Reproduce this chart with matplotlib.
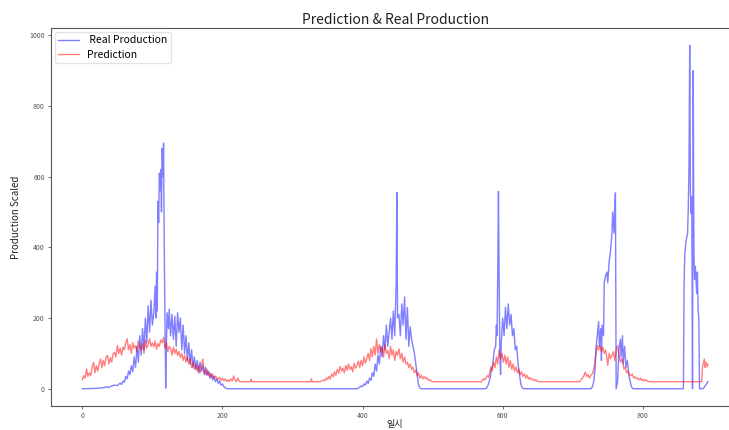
import matplotlib
matplotlib.use('Agg')
import matplotlib.pyplot as plt

plt.rcParams['font.family'] = ['Noto Sans CJK KR', 'DejaVu Sans']

# 실제 생산량 (x, y)
real_x = [0, 20, 30, 34, 38, 42, 46, 50, 54, 56, 58, 60, 62, 64, 66, 68, 70, 72, 74, 76,
          78, 80, 82, 84, 86, 88, 90, 92, 94, 96, 98, 100, 102, 104, 105, 106, 107, 108, 109, 110,
          111, 112, 113, 114, 115, 116, 117, 118, 119, 120, 121, 123, 124, 126, 128, 130, 132, 134, 136, 138,
          140, 142, 144, 146, 148, 150, 152, 154, 156, 158, 160, 162, 164, 166, 168, 170, 172, 174, 176, 178,
          180, 182, 184, 186, 188, 190, 192, 194, 196, 198, 200, 202, 204, 206, 210,
          392, 396, 398, 400, 402, 404, 406, 408, 410, 412, 414, 416, 418, 420, 422, 424, 426, 428, 430, 432,
          434, 436, 438, 440, 442, 444, 446, 448, 449, 450, 452, 454, 456, 458, 460, 462, 464, 466, 468, 470,
          472, 474, 476, 478, 480, 482, 484,
          576, 578, 580, 582, 584, 586, 588, 590, 591, 592, 593, 594, 595, 596, 597, 598, 600, 602, 604, 606,
          608, 610, 612, 614, 616, 618, 620, 622, 624, 626, 628, 630,
          726, 728, 730, 732, 733, 735, 737, 738, 740, 741, 742, 744, 745, 747, 749, 750, 752, 754, 756, 757,
          759, 760, 761, 762, 764, 766, 768, 769, 771, 772, 774, 776, 778, 780, 782, 784, 786,
          858, 859, 860, 862, 864, 865, 866, 867, 868, 869, 870, 871, 872, 873, 874, 875, 877, 878, 879, 880,
          881, 886, 888, 891, 893]
real_y = [0, 1, 3, 5, 4, 8, 10, 9, 16, 12, 22, 18, 35, 28, 50, 40, 65, 48, 90, 60,
          120, 75, 150, 95, 170, 110, 200, 130, 235, 160, 250, 180, 215, 290, 200, 330, 220, 530, 470, 610,
          560, 620, 500, 680, 600, 695, 390, 200, 2, 120, 215, 170, 225, 150, 210, 140, 205, 120, 215, 160,
          200, 110, 180, 100, 150, 80, 130, 70, 110, 60, 90, 55, 80, 45, 75, 50, 65, 40, 60, 38,
          50, 30, 42, 25, 35, 20, 28, 15, 22, 10, 14, 6, 3, 1, 0,
          0, 4, 8, 6, 14, 10, 22, 15, 30, 24, 45, 35, 70, 50, 95, 70, 120, 90, 150, 110,
          180, 120, 160, 200, 140, 220, 150, 300, 555, 200, 210, 150, 240, 180, 260, 140, 230, 120, 175, 140,
          120, 100, 70, 40, 10, 2, 0,
          0, 5, 15, 30, 55, 70, 110, 120, 180, 150, 330, 558, 300, 100, 40, 130, 200, 150, 230, 170,
          240, 180, 210, 150, 170, 110, 120, 70, 40, 12, 3, 0,
          0, 5, 20, 60, 110, 150, 190, 120, 170, 80, 180, 150, 300, 320, 330, 300, 360, 390, 440, 500,
          440, 520, 554, 0, 20, 113, 140, 90, 150, 70, 120, 60, 80, 40, 20, 5, 0,
          0, 300, 385, 420, 440, 516, 630, 972, 560, 496, 543, 0, 900, 385, 310, 346, 270, 330, 220, 200,
          0, 0, 5, 14, 20]

# 예측값 (x, y)
pred_x = [0, 2, 4, 6, 8, 10, 12, 14, 16, 18, 20, 22, 24, 26, 28, 30, 32, 34, 36, 38,
          40, 42, 44, 46, 48, 50, 52, 54, 56, 58, 60, 62, 64, 66, 68, 70, 72, 74, 76, 78,
          80, 82, 84, 86, 88, 90, 92, 94, 96, 98, 100, 102, 104, 106, 108, 110, 112, 114, 116, 118,
          120, 122, 124, 126, 128, 130, 132, 134, 136, 138, 140, 142, 144, 146, 148, 150, 152, 154, 156, 158,
          160, 162, 164, 166, 168, 170, 172, 174, 176, 178, 180, 182, 184, 186, 188, 190, 192, 194, 196, 198,
          200, 202, 204, 206, 208, 210, 212, 214, 216, 218, 220, 222, 224, 226, 240, 241, 242, 326, 327, 328,
          340, 344, 346, 348, 350, 352, 354, 356, 358, 360, 362, 364, 366, 368, 370, 372, 374, 376, 378, 380,
          382, 384, 386, 388, 390, 392, 394, 396, 398, 400, 402, 404, 406, 408, 410, 412, 414, 416, 418, 420,
          422, 424, 426, 428, 430, 432, 434, 436, 438, 440, 442, 444, 446, 448, 450, 452, 454, 456, 458, 460,
          462, 464, 466, 468, 470, 472, 474, 476, 478, 480, 482, 484, 486, 488, 490, 492, 494, 496, 498, 500,
          570, 573, 575, 578, 580, 583, 585, 587, 589, 591, 593, 595, 597, 599, 601, 603, 605, 607, 609, 611,
          613, 615, 617, 619, 621, 623, 625, 627, 629, 631, 633, 635, 637, 639, 641, 643, 645, 647, 650,
          710, 713, 716, 718, 720, 722, 724, 726, 728, 730, 731, 733, 735, 737, 739, 741, 743, 745, 747, 749,
          750, 752, 754, 756, 758, 760, 762, 764, 766, 768, 770, 772, 773, 775, 777, 779, 781, 783, 785, 787,
          789, 791, 793, 795, 797, 799, 801, 803, 805, 807, 810,
          884, 885, 886, 888, 889, 890, 892, 893]
pred_y = [25, 37, 30, 56, 35, 45, 37, 60, 75, 45, 65, 50, 70, 84, 60, 80, 65, 90, 94, 70,
          88, 75, 100, 103, 90, 122, 100, 115, 95, 118, 110, 130, 141, 110, 125, 100, 130, 115, 122, 105,
          135, 118, 110, 128, 100, 138, 115, 125, 141, 120, 130, 118, 135, 112, 128, 120, 138, 130, 145, 115,
          130, 105, 120, 113, 95, 118, 100, 112, 94, 105, 88, 100, 80, 95, 75, 90, 70, 85, 60, 75,
          55, 70, 50, 65, 45, 60, 84, 50, 40, 55, 38, 45, 32, 42, 28, 36, 30, 26, 32, 24,
          30, 22, 28, 21, 25, 20, 28, 22, 36, 24, 20, 30, 21, 20, 20, 28, 20, 20, 28, 20,
          20, 25, 22, 30, 26, 35, 28, 42, 34, 48, 38, 55, 44, 63, 50, 58, 45, 66, 52, 70,
          55, 62, 48, 72, 58, 66, 78, 60, 80, 65, 90, 72, 85, 100, 80, 113, 90, 120, 95, 141,
          100, 125, 105, 118, 90, 125, 100, 108, 85, 120, 95, 110, 80, 105, 95, 113, 85, 100, 75, 90,
          70, 75, 60, 70, 55, 61, 45, 52, 37, 45, 30, 38, 28, 34, 28, 31, 24, 26, 21, 20,
          20, 28, 25, 37, 32, 61, 50, 75, 60, 90, 70, 110, 85, 100, 75, 95, 70, 90, 60, 80,
          55, 70, 50, 62, 45, 55, 40, 48, 35, 42, 30, 38, 27, 32, 25, 28, 22, 26, 20,
          20, 28, 37, 47, 35, 40, 30, 38, 42, 55, 66, 94, 122, 110, 122, 105, 118, 100, 110, 85,
          66, 100, 85, 95, 105, 80, 110, 122, 95, 75, 85, 70, 56, 60, 45, 50, 40, 37, 42, 30,
          34, 28, 31, 25, 30, 23, 27, 22, 25, 21, 20,
          20, 56, 70, 84, 60, 75, 62, 70]

fig = plt.figure(figsize=(7.29, 4.30), dpi=100)
ax = fig.add_axes([0.070, 0.056, 0.944, 0.879])

ax.plot(real_x, real_y, color='blue', alpha=0.5, lw=1, label=' Real Production')
ax.plot(pred_x, pred_y, color='red', alpha=0.5, lw=1, label='Prediction')

ax.set_title('Prediction & Real Production', fontsize=10, color='#222222', pad=3)
ax.set_ylabel('Production Scaled', fontsize=7, color='#222222', labelpad=6)
ax.set_xlabel('일시', fontsize=6.5, color='#222222', labelpad=0)
ax.set_xticks([0, 200, 400, 600, 800])
ax.set_yticks([0, 200, 400, 600, 800, 1000])
ax.tick_params(labelsize=5, colors='#555555', length=2.5, width=0.6, pad=2)
for s in ax.spines.values():
    s.set_color('#555555')
    s.set_linewidth(0.8)

leg = ax.legend(loc='upper left', fontsize=7.5, handlelength=2, frameon=True,
                borderpad=0.3, labelspacing=0.45, borderaxespad=0.4)
leg.get_frame().set_edgecolor('#dddddd')

fig.savefig('out.png', dpi=100)
